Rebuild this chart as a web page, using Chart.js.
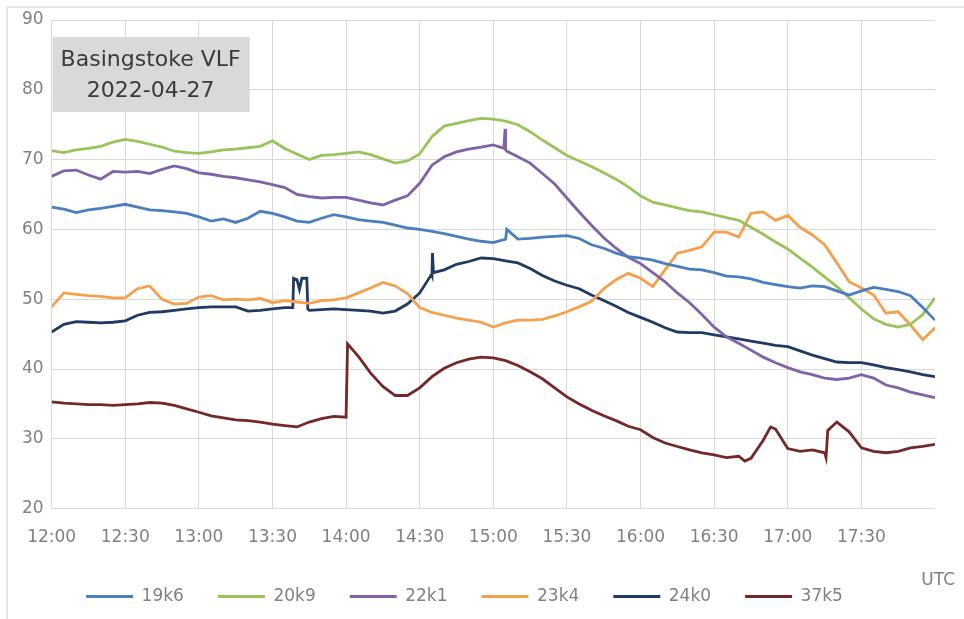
<!DOCTYPE html>
<html>
<head>
<meta charset="utf-8">
<script src="https://cdn.jsdelivr.net/npm/chart.js@4/dist/chart.umd.min.js"></script>
<style>
  html, body { margin: 0; padding: 0; background: #fff; }
  #wrap { position: relative; width: 964px; height: 619px; }
  #frame { position: absolute; left: 6px; top: 6px; right: -4px; bottom: -4px;
           border-top: 2px solid #e6e6e6; border-left: 2px solid #e6e6e6; }
  canvas { position: absolute; left: 0; top: 0; }
</style>
</head>
<body>
<div id="wrap">
  <div id="frame"></div>
  <canvas id="vlf" width="964" height="619"></canvas>
</div>
<script>
// Basingstoke VLF, 2022-04-27 - received signal levels, 12:00 to 18:00 UTC
// x values are minutes after 12:00, read every 5 minutes off the plot

const times = [
  0, 5, 10, 15, 20, 25, 30, 35, 40, 45,
  50, 55, 60, 65, 70, 75, 80, 85, 90, 95,
  100, 105, 110, 115, 120, 125, 130, 135, 140, 145,
  150, 155, 160, 165, 170, 175, 180, 185, 190, 195,
  200, 205, 210, 215, 220, 225, 230, 235, 240, 245,
  250, 255, 260, 265, 270, 275, 280, 285, 290, 295,
  300, 305, 310, 315, 320, 325, 330, 335, 340, 345,
  350, 355, 360
];

const v19k6 = [
  63.2, 62.9, 62.4, 62.8, 63.0, 63.3, 63.6, 63.2, 62.8, 62.7,
  62.5, 62.3, 61.8, 61.2, 61.5, 61.0, 61.6, 62.6, 62.3, 61.8,
  61.2, 61.0, 61.6, 62.1, 61.8, 61.4, 61.2, 61.0, 60.6, 60.2,
  60.0, 59.7, 59.4, 59.0, 58.6, 58.3, 58.1, 58.6, 58.6, 58.7,
  58.9, 59.0, 59.1, 58.7, 57.8, 57.3, 56.6, 56.1, 55.9, 55.6,
  55.1, 54.7, 54.3, 54.2, 53.8, 53.3, 53.2, 52.9, 52.4, 52.1,
  51.8, 51.6, 51.9, 51.8, 51.2, 50.6, 51.2, 51.7, 51.4, 51.1,
  50.5, 48.8, 47.0
];

const v20k9 = [
  71.3, 71.0, 71.4, 71.6, 71.9, 72.5, 72.9, 72.6, 72.2, 71.8,
  71.2, 71.0, 70.9, 71.1, 71.4, 71.5, 71.7, 71.9, 72.7, 71.6,
  70.8, 70.0, 70.6, 70.7, 70.9, 71.1, 70.7, 70.1, 69.5, 69.8,
  70.8, 73.3, 74.8, 75.2, 75.6, 75.9, 75.8, 75.5, 75.0, 74.0,
  72.8, 71.7, 70.6, 69.8, 69.0, 68.1, 67.2, 66.1, 64.8, 63.9,
  63.5, 63.1, 62.7, 62.5, 62.1, 61.7, 61.3, 60.3, 59.3, 58.2,
  57.2, 55.9, 54.6, 53.2, 51.8, 50.2, 48.6, 47.2, 46.4, 46.0,
  46.4, 47.8, 50.2
];

const v22k1 = [
  67.6, 68.4, 68.5, 67.8, 67.2, 68.3, 68.2, 68.3, 68.0, 68.6,
  69.1, 68.7, 68.1, 67.9, 67.6, 67.4, 67.1, 66.8, 66.4, 66.0,
  65.0, 64.7, 64.5, 64.6, 64.6, 64.2, 63.8, 63.5, 64.2, 64.8,
  66.6, 69.2, 70.4, 71.1, 71.5, 71.8, 72.1, 71.4, 70.4, 69.5,
  68.0, 66.5, 64.5, 62.5, 60.6, 58.8, 57.3, 56.0, 55.1, 53.8,
  52.5, 50.9, 49.5, 47.8, 46.0, 44.6, 43.7, 42.7, 41.7, 40.9,
  40.2, 39.6, 39.2, 38.7, 38.5, 38.7, 39.2, 38.7, 37.7, 37.3,
  36.7, 36.3, 35.9
];

const v23k4 = [
  48.9, 50.9, 50.7, 50.5, 50.4, 50.2, 50.2, 51.5, 51.9, 50.0,
  49.3, 49.4, 50.3, 50.5, 49.9, 50.0, 49.9, 50.1, 49.5, 49.8,
  49.6, 49.4, 49.8, 49.9, 50.2, 50.9, 51.6, 52.4, 51.9, 50.8,
  48.8, 48.1, 47.7, 47.3, 47.0, 46.7, 46.0, 46.6, 47.0, 47.0,
  47.1, 47.6, 48.2, 48.9, 49.7, 51.5, 52.8, 53.7, 53.0, 51.8,
  54.2, 56.6, 57.0, 57.5, 59.6, 59.6, 58.9, 62.3, 62.5, 61.3,
  62.0, 60.3, 59.2, 57.8, 55.2, 52.5, 51.6, 50.6, 48.0, 48.2,
  46.3, 44.2, 45.9
];

const v24k0 = [
  45.3, 46.4, 46.8, 46.7, 46.6, 46.7, 46.9, 47.7, 48.1, 48.2,
  48.4, 48.6, 48.8, 48.9, 48.9, 48.9, 48.3, 48.4, 48.6, 48.8,
  52.8, 48.4, 48.5, 48.6, 48.5, 48.4, 48.3, 48.0, 48.3, 49.3,
  50.9, 53.5, 54.2, 55.0, 55.4, 55.9, 55.8, 55.5, 55.2, 54.4,
  53.4, 52.6, 52.0, 51.5, 50.6, 49.8, 49.0, 48.1, 47.4, 46.7,
  45.9, 45.3, 45.2, 45.2, 44.9, 44.6, 44.3, 44.0, 43.7, 43.4,
  43.2, 42.6, 42.0, 41.5, 41.0, 40.9, 40.9, 40.6, 40.2, 39.9,
  39.6, 39.2, 38.9
];

const v37k5 = [
  35.3, 35.1, 35.0, 34.9, 34.9, 34.8, 34.9, 35.0, 35.2, 35.1,
  34.8, 34.3, 33.8, 33.3, 33.0, 32.7, 32.6, 32.4, 32.1, 31.9,
  31.7, 32.4, 32.9, 33.2, 33.1, 41.8, 39.4, 37.5, 36.2, 36.2,
  37.3, 38.9, 40.1, 40.9, 41.4, 41.7, 41.6, 41.2, 40.5, 39.6,
  38.6, 37.3, 36.0, 35.0, 34.1, 33.3, 32.6, 31.8, 31.3, 30.2,
  29.4, 28.9, 28.4, 28.0, 27.7, 27.3, 27.5, 27.2, 29.8, 31.4,
  28.6, 28.2, 28.4, 28.0, 32.4, 31.0, 28.7, 28.2, 28.0, 28.2,
  28.7, 28.9, 29.2
];

// short spikes and steps that fall between the 5-minute readings: [minute, value]
const extra19k6 = [[185.5, 60.0]];
const extra22k1 = [[184.3, 71.6], [184.8, 74.4], [185.6, 71.2]];
const extra24k0 = [[98.3, 48.8], [98.6, 53.0], [101, 51.4], [102, 53.0], [104, 53.0], [104.4, 48.6],
                   [154.9, 53.6], [155.2, 56.6], [155.6, 53.8]];
const extra37k5 = [[120.6, 43.6], [282.5, 26.8], [293, 31.7], [315.6, 27.3], [316.3, 31.2]];

const seriesNames = ['19k6', '20k9', '22k1', '23k4', '24k0', '37k5'];
const seriesColors = ['#4a7ebf', '#98c459', '#7f62a8', '#f4a04c', '#1f3a63', '#742828'];
const yTicks = [20, 30, 40, 50, 60, 70, 80, 90];
const xTickStep = 30;

function points(values, extra) {
  const pts = times.map((t, i) => ({ x: t, y: values[i] }));
  (extra || []).forEach(p => pts.push({ x: p[0], y: p[1] }));
  return pts.sort((a, b) => a.x - b.x);
}

function hhmm(m) {
  const h = 12 + Math.floor(m / 60);
  const mm = m % 60;
  return h + ':' + (mm < 10 ? '0' : '') + mm;
}

const seriesData = [
  points(v19k6, extra19k6),
  points(v20k9),
  points(v22k1, extra22k1),
  points(v23k4),
  points(v24k0, extra24k0),
  points(v37k5, extra37k5)
];

const FONT = 'DejaVu Sans';

// grey title box, the "UTC" note, and a small nudge of the legend row
const notes = {
  id: 'notes',
  afterLayout(chart) {
    chart.legend.left -= 10;
    chart.legend.right -= 10;
  },
  beforeDatasetsDraw(chart) {
    const { ctx, chartArea } = chart;
    ctx.save();
    ctx.fillStyle = '#d9d9d9';
    ctx.fillRect(chartArea.left + 1, chartArea.top + 17, 197, 75);
    ctx.fillStyle = '#3a3a3a';
    ctx.font = '22px "' + FONT + '"';
    ctx.textAlign = 'center';
    ctx.textBaseline = 'middle';
    const cx = chartArea.left + 99;
    ctx.fillText('Basingstoke VLF', cx, chartArea.top + 40);
    ctx.fillText('2022-04-27', cx, chartArea.top + 71);
    ctx.restore();
  },
  afterDraw(chart) {
    const { ctx, chartArea } = chart;
    ctx.save();
    ctx.fillStyle = '#808080';
    ctx.font = '17px "' + FONT + '"';
    ctx.textAlign = 'right';
    ctx.textBaseline = 'middle';
    ctx.fillText('UTC', chartArea.right + 20, chartArea.bottom + 72);
    ctx.restore();
  }
};

new Chart(document.getElementById('vlf'), {
  type: 'line',
  data: {
    datasets: seriesNames.map((name, i) => ({
      label: name,
      data: seriesData[i],
      borderColor: seriesColors[i],
      backgroundColor: seriesColors[i],
      borderWidth: 2.8,
      pointRadius: 0,
      tension: 0
    }))
  },
  options: {
    responsive: false,
    animation: false,
    devicePixelRatio: 1,
    layout: { padding: { left: 14, right: 29, top: 20, bottom: 4 } },
    plugins: {
      legend: {
        position: 'bottom',
        labels: {
          usePointStyle: true,
          pointStyle: 'line',
          pointStyleWidth: 47,
          padding: 34,
          color: '#808080',
          font: { family: FONT, size: 17 }
        }
      },
      tooltip: { enabled: false }
    },
    scales: {
      x: {
        type: 'linear',
        min: times[0],
        max: times[times.length - 1],
        afterBuildTicks: axis => { axis.ticks = axis.ticks.filter(t => t.value < 360); },
        ticks: {
          stepSize: xTickStep,
          padding: 6,
          color: '#808080',
          font: { family: FONT, size: 17 },
          callback: v => hhmm(v)
        },
        grid: { color: '#d9d9d9', drawTicks: true, tickLength: 13, tickColor: 'rgba(0,0,0,0)' },
        border: { display: false }
      },
      y: {
        min: yTicks[0],
        max: yTicks[yTicks.length - 1],
        ticks: {
          stepSize: 10,
          padding: 8,
          color: '#808080',
          font: { family: FONT, size: 17 }
        },
        grid: { color: '#d9d9d9', drawTicks: false },
        border: { display: false }
      }
    }
  },
  plugins: [notes]
});
</script>
</body>
</html>
